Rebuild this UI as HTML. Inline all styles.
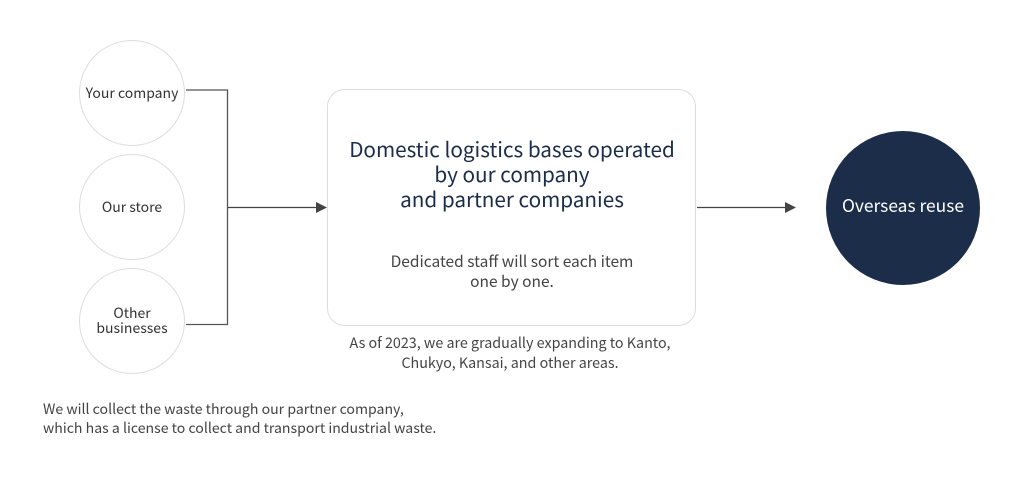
<!DOCTYPE html>
<html><head><meta charset="utf-8"><style>
body{margin:0;width:1024px;height:480px;background:#fff;overflow:hidden;position:relative;font-family:"Noto Sans CJK JP","Liberation Sans",sans-serif;color:#333}
.c{position:absolute;width:106px;height:106px;border:1px solid #ddd;border-radius:50%;display:flex;align-items:center;justify-content:center;text-align:center;font-size:14px;line-height:15px;box-sizing:border-box}
.t{position:absolute;text-align:center;}
</style></head><body>
<div class="c" style="left:79px;top:40px">Your company</div>
<div class="c" style="left:79px;top:154px">Our store</div>
<div class="c" style="left:79px;top:268px">Other<br>businesses</div>
<svg style="position:absolute;left:0;top:0" width="1024" height="480">
<polyline points="186,90 227.5,90 227.5,324.5 186,324.5" fill="none" stroke="#555" stroke-width="1.3"/>
<line x1="228" y1="207.5" x2="318" y2="207.5" stroke="#444" stroke-width="1.3"/>
<polygon points="316,202 327,207.5 316,213" fill="#444"/>
<line x1="697" y1="207.5" x2="786" y2="207.5" stroke="#444" stroke-width="1.3"/>
<polygon points="785,202 796,207.5 785,213" fill="#444"/>
<rect x="327.5" y="89.5" width="368" height="236" rx="17" fill="none" stroke="#ddd"/>
<circle cx="903" cy="208" r="77" fill="#1b2d48"/>
</svg>
<div class="t" style="left:312px;width:400px;top:136px;font-size:20.7px;line-height:25px;color:#1b2d48">Domestic logistics bases operated<br>by our company<br>and partner companies</div>
<div class="t" style="left:312px;width:400px;top:251px;font-size:15.5px;line-height:20px;color:#444">Dedicated staff will sort each item<br>one by one.</div>
<div class="t" style="left:300px;width:420px;top:333px;font-size:14.3px;line-height:20px;color:#444">As of 2023, we are gradually expanding to Kanto,<br>Chukyo, Kansai, and other areas.</div>
<div class="t" style="left:816px;width:174px;top:194px;font-size:17.4px;line-height:24px;color:#fff">Overseas reuse</div>
<div style="position:absolute;left:43px;top:400px;font-size:14.1px;line-height:19px;color:#444">We will collect the waste through our partner company,<br>which has a license to collect and transport industrial waste.</div>
</body></html>
